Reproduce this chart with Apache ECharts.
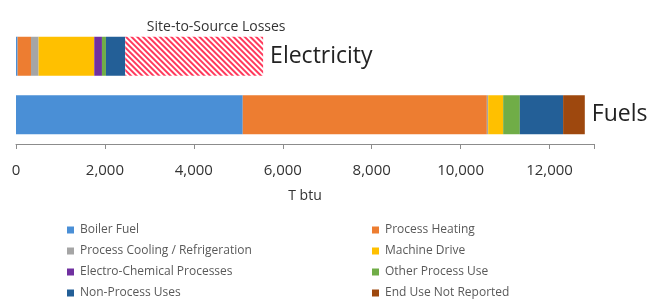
<!DOCTYPE html>
<html>
<head>
<meta charset="utf-8">
<script src="https://cdn.jsdelivr.net/npm/echarts@6/dist/echarts.min.js"></script>
<style>
  html, body { margin: 0; padding: 0; background: #fff; }
  #chart { width: 651px; height: 301px; }
</style>
</head>
<body>
<div id="chart"></div>
<script>
// categories (top to bottom)
var categories = ['Electricity', 'Fuels'];

// end uses, T btu  [Electricity, Fuels]
var boilerFuel      = [36, 5100];
var processHeating  = [301, 5490];
var processCooling  = [171, 30];
var machineDrive    = [1252, 337];
var electroChemical = [173, 0];
var otherProcess    = [90, 375];
var nonProcess      = [434, 973];
var endUseNotRep    = [0, 488];
var siteToSource    = [3101, 0];

var tickMax = 13000;
var tickStep = 2000;

var colors = {
  'Boiler Fuel': '#4a8fd6',
  'Process Heating': '#ed7d31',
  'Process Cooling / Refrigeration': '#a5a5a5',
  'Machine Drive': '#ffc000',
  'Electro-Chemical Processes': '#7030a0',
  'Other Process Use': '#70ad47',
  'Non-Process Uses': '#235f97',
  'End Use Not Reported': '#9e480e'
};

var font = '"Open Sans", "Noto Sans", sans-serif';

function seg(name, data) {
  return {
    name: name,
    type: 'bar',
    stack: 'total',
    barWidth: 39,
    data: data,
    itemStyle: { color: colors[name] },
    emphasis: { disabled: true }
  };
}

var series = [
  seg('Boiler Fuel', boilerFuel),
  seg('Process Heating', processHeating),
  seg('Process Cooling / Refrigeration', processCooling),
  seg('Machine Drive', machineDrive),
  seg('Electro-Chemical Processes', electroChemical),
  seg('Other Process Use', otherProcess),
  seg('Non-Process Uses', nonProcess),
  seg('End Use Not Reported', endUseNotRep),
  {
    name: 'Site-to-Source Losses',
    type: 'bar',
    stack: 'total',
    barWidth: 39,
    data: siteToSource.map(function (v, i) {
      return i === 0 ? {
        value: v,
        label: {
          show: true, position: 'top', distance: 3, offset: [22, 0],
          formatter: 'Site-to-Source Losses',
          color: '#333', fontSize: 14, fontFamily: font
        }
      } : v;
    }),
    itemStyle: {
      color: '#ffffff',
      decal: {
        symbol: 'rect',
        symbolSize: 1,
        color: '#ff3a5c',
        dashArrayX: [1, 0],
        dashArrayY: [1.5, 1.5],
        rotation: Math.PI / 4
      }
    },
    emphasis: { disabled: true }
  },
  {
    // category names written at the end of each bar
    name: 'names',
    type: 'bar',
    stack: 'total',
    barWidth: 39,
    data: categories.map(function () { return 0; }),
    label: {
      show: true, position: 'right', distance: 7,
      formatter: '{b}', color: '#222', fontSize: 23, fontFamily: font
    },
    itemStyle: { color: 'transparent' }
  }
];

var leftNames = ['Boiler Fuel', 'Process Cooling / Refrigeration', 'Electro-Chemical Processes', 'Non-Process Uses'];
var rightNames = ['Process Heating', 'Machine Drive', 'Other Process Use', 'End Use Not Reported'];

function legendAt(left, names) {
  return {
    data: names,
    orient: 'vertical',
    left: left,
    top: 224,
    height: 140,
    padding: 0,
    itemWidth: 7,
    itemHeight: 7,
    itemGap: 9,
    icon: 'rect',
    selectedMode: false,
    textStyle: { color: '#595959', fontSize: 12, fontFamily: font, padding: [0, 0, 0, 1] }
  };
}

var chart = echarts.init(document.getElementById('chart'));
chart.setOption({
  animation: false,
  backgroundColor: '#fff',
  grid: { left: 16, right: 57, top: 27, height: 117 },
  legend: [legendAt(67, leftNames), legendAt(372, rightNames)],
  xAxis: {
    type: 'value',
    min: 0,
    max: tickMax,
    interval: tickStep,
    name: 'T btu',
    nameLocation: 'middle',
    nameGap: 45,
    nameTextStyle: { color: '#333', fontSize: 14, fontFamily: font },
    splitLine: { show: false },
    axisLine: { show: true, lineStyle: { color: '#8c8c8c' } },
    axisTick: { show: true, length: 5, lineStyle: { color: '#8c8c8c' } },
    axisLabel: {
      color: '#333', fontSize: 15, fontFamily: font, margin: 19,
      formatter: function (v) {
        return v > 12000 ? '' : v.toLocaleString('en-US');
      }
    }
  },
  yAxis: {
    type: 'category',
    data: categories,
    inverse: true,
    axisLine: { show: false },
    axisTick: { show: false },
    axisLabel: { show: false }
  },
  series: series
});
</script>
</body>
</html>
